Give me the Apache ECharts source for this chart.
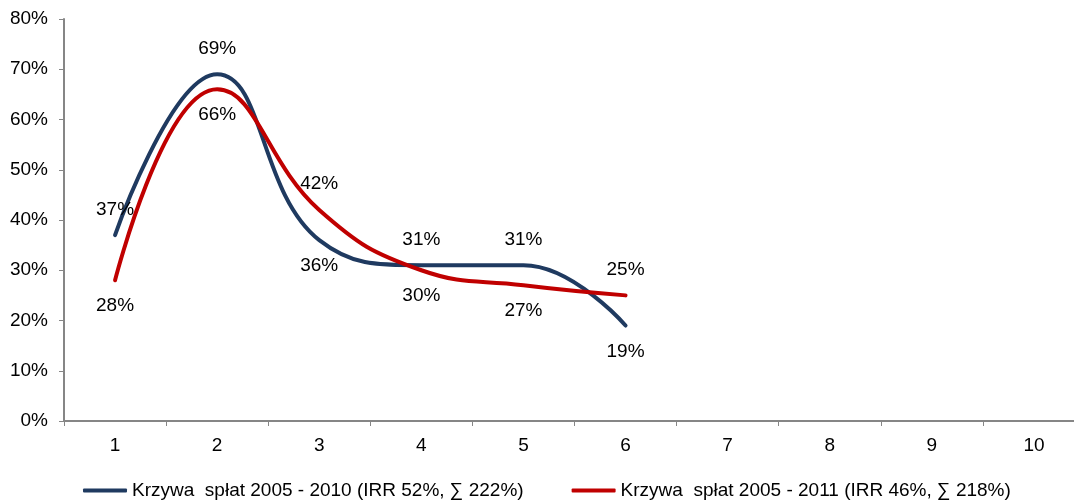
<!DOCTYPE html>
<html>
<head>
<meta charset="utf-8">
<script src="https://cdn.jsdelivr.net/npm/echarts@6/dist/echarts.min.js"></script>
<style>
  html, body { margin: 0; padding: 0; background: #fff; }
  #chart { width: 1074px; height: 501px; }
</style>
</head>
<body>
<div id="chart"></div>
<script>
// Repayment curves by year (% of invested amount)
const years = ['1', '2', '3', '4', '5', '6', '7', '8', '9', '10'];
const curve2010 = [37, 69, 36, 31, 31, 19];
const curve2011 = [28, 66, 42, 30, 27, 25];
const name2010 = 'Krzywa  spłat 2005 - 2010 (IRR 52%, ∑ 222%)';
const name2011 = 'Krzywa  spłat 2005 - 2011 (IRR 46%, ∑ 218%)';
// label side for each point: 't' above, 'b' below
const side2010 = ['t', 't', 'b', 't', 't', 'b'];
const side2011 = ['b', 'b', 't', 'b', 'b', 't'];

const FONT = '"Liberation Sans", Arial, sans-serif';
const FS = 19;
const axisGray = '#868686';

function points(values, sides) {
  return values.map((v, i) => ({
    value: v,
    label: { position: sides[i] === 't' ? 'top' : 'bottom' }
  }));
}

function lineSeries(name, color, values, sides, z) {
  return {
    name: name,
    type: 'line',
    smooth: 0.45,
    showSymbol: true,
    symbol: 'circle',
    symbolSize: 0.5,
    itemStyle: { color: color },
    color: color,
    lineStyle: { width: 4, color: color, cap: 'round' },
    label: {
      show: true,
      distance: 16,
      fontFamily: FONT,
      fontSize: FS,
      color: '#000',
      formatter: '{c}%'
    },
    labelLayout: { hideOverlap: false },
    emphasis: { disabled: true },
    data: points(values, sides),
    z: z
  };
}

const chart = echarts.init(document.getElementById('chart'), null, { renderer: 'canvas' });
chart.setOption({
  animation: false,
  backgroundColor: '#fff',
  grid: { left: 64, width: 1021, top: 19, height: 402, containLabel: false, outerBoundsMode: 'none' },
  legend: {
    top: 476,
    left: 78,
    itemWidth: 44,
    itemHeight: 4,
    itemGap: 48,
    icon: 'roundRect',
    textStyle: { fontFamily: FONT, fontSize: FS, color: '#000' },
    data: [name2010, name2011]
  },
  xAxis: {
    type: 'category',
    data: years,
    boundaryGap: true,
    axisLine: { lineStyle: { color: axisGray, width: 2 } },
    axisTick: { show: true, length: 5, lineStyle: { color: axisGray, width: 1 } },
    axisLabel: { fontFamily: FONT, fontSize: FS, color: '#000', margin: 15 },
    splitLine: { show: false }
  },
  yAxis: {
    type: 'value',
    min: 0,
    max: 80,
    interval: 10,
    axisLine: { show: true, lineStyle: { color: axisGray, width: 2 } },
    axisTick: { show: true, length: 5, lineStyle: { color: axisGray, width: 1 } },
    axisLabel: { fontFamily: FONT, fontSize: FS, color: '#000', margin: 16, formatter: '{value}%' },
    splitLine: { show: false }
  },
  series: [
    lineSeries(name2010, '#1F3A60', curve2010, side2010, 2),
    lineSeries(name2011, '#C00000', curve2011, side2011, 3)
  ]
});
</script>
</body>
</html>
